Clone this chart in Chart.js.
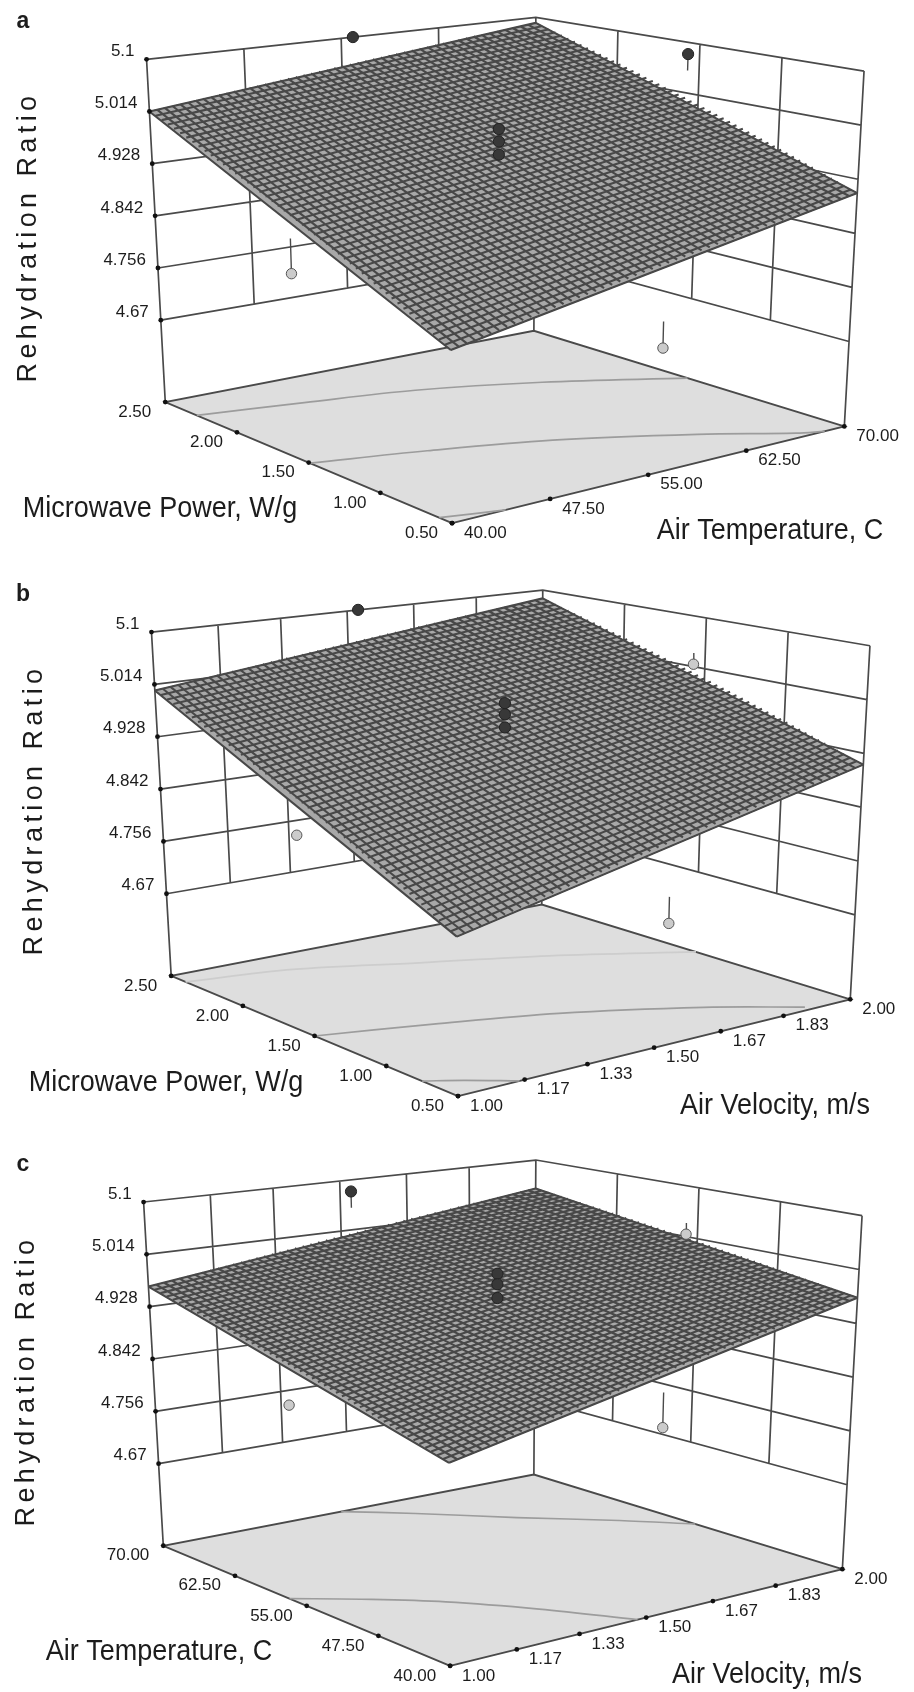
<!DOCTYPE html>
<html>
<head>
<meta charset="utf-8">
<title>Rehydration Ratio response surfaces</title>
<script src="https://cdn.jsdelivr.net/npm/chart.js@4"></script>
<style>
  html, body { margin: 0; padding: 0; background: #fff; }
  #page { position: relative; width: 914px; height: 1692px; overflow: hidden; }
  canvas { position: absolute; left: 0; filter: blur(0.6px); }
</style>
</head>
<body>
<div id="page">
  <canvas id="panelA" width="914" height="560" style="top:0"></canvas>
  <canvas id="panelB" width="914" height="570" style="top:560px"></canvas>
  <canvas id="panelC" width="914" height="562" style="top:1130px"></canvas>
</div>
<script>
// axis ticks
const ratioTicks = [4.67, 4.756, 4.842, 4.928, 5.014, 5.1];
const powerTicks = [0.5, 1, 1.5, 2, 2.5];
const tempTicks = [40, 47.5, 55, 62.5, 70];
const velocityTicks = [1, 1.17, 1.33, 1.5, 1.67, 1.83, 2];
const FLOOR_RATIO = 4.535;

// surface heights read at the four corners: [u low, u high] for v low, then v high
const surfaceA = [[4.78, 4.906], [5.014, 5.09]];
const surfaceB = [[4.761, 4.91], [5.004, 5.085]];
const surfaceC = [[4.823, 4.969], [4.961, 5.049]];

// design points, each [u value, v value, ratio, end of the stem]
const pointsDarkA = [[55.9, 2.5, 5.1, 5.1], [70, 1.57, 5.08, 5.052], [55, 1.5, 5.002, 5.002], [55, 1.5, 4.982, 4.982], [55, 1.5, 4.961, 4.961]];
const pointsLightA = [[40, 1.58, 4.817, 4.871], [55.9, 0.5, 4.721, 4.761]];
const pointsDarkB = [[1.528, 2.5, 5.1, 5.1], [1.5, 1.5, 5.001, 5.001], [1.5, 1.5, 4.983, 4.983], [1.5, 1.5, 4.962, 4.962]];
const pointsLightB = [[2, 1.57, 5.018, 5.037], [1, 1.58, 4.835, 4.835], [1.53, 0.5, 4.718, 4.758]];
const pointsDarkC = [[1.528, 70, 5.08, 5.052], [1.5, 55, 5.0, 5.0], [1.5, 55, 4.983, 4.983], [1.5, 55, 4.961, 4.961]];
const pointsLightC = [[2, 56.05, 5.018, 5.037], [1, 56.2, 4.835, 4.835], [1.53, 40, 4.817, 4.87]];

// floor contours, [u value, v value]
const contoursA = [
  [[40, 2.28], [47.5, 2.18], [55, 2.06], [62.5, 1.84], [70, 1.51]],
  [[40, 1.49], [47.5, 1.34], [55, 1.14], [62.5, 0.82], [67, 0.56], [68.5, 0.5]],
  [[40, 0.59], [44.1, 0.5]]
];
const contoursB = [
  [[1, 2.4], [1.25, 2.3], [1.5, 2.08], [1.75, 1.84], [2, 1.5]],
  [[1, 1.5], [1.25, 1.34], [1.5, 1.14], [1.75, 0.82], [1.9, 0.54]],
  [[1, 0.75], [1.07, 0.65], [1.157, 0.5]]
];
const contoursC = [
  [[1.48, 70], [1.6, 67], [1.75, 62.5], [1.9, 58], [2, 54.3]],
  [[1, 56.8], [1.12, 54.1], [1.25, 50.5], [1.37, 45.7], [1.478, 40]]
];

const MESH_CELLS = 50;
const COLORS = {
  wall: '#4a4a4a',
  floor: '#dedede',
  contour: '#9c9c9c',
  contourFaint: '#cdcdcd',
  mesh: '#484848',
  cell: '#a8a8a8',
  tick: '#111111',
  text: '#1c1c1c',
  dark: '#383838',
  darkEdge: '#222222',
  light: '#cbcbcb',
  lightEdge: '#555555'
};

const panels = [
  {
    id: 'panelA', letter: 'a', letterAt: [23, 22],
    uTicks: tempTicks, vTicks: powerTicks,
    surface: surfaceA, dark: pointsDarkA, light: pointsLightA, contours: contoursA, faintContour: -1,
    uTitle: 'Air Temperature, C', uTitleAt: [770, 531],
    vTitle: 'Microwave Power, W/g', vTitleAt: [160, 509],
    ratioTitleAt: [29, 237],
    // box corners in page pixels: F front, R right, L left, B back; B bottom, T top
    box: { FB: [452, 529], RB: [850, 430], LB: [161, 405], BB: [535, 332], FT: [449, 120], RT: [870, 66], LT: [142, 54], BT: [537, 11] }
  },
  {
    id: 'panelB', letter: 'b', letterAt: [23, 35],
    uTicks: velocityTicks, vTicks: powerTicks,
    surface: surfaceB, dark: pointsDarkB, light: pointsLightB, contours: contoursB, faintContour: 0,
    uTitle: 'Air Velocity, m/s', uTitleAt: [775, 546],
    vTitle: 'Microwave Power, W/g', vTitleAt: [166, 523],
    ratioTitleAt: [35, 250],
    box: { FB: [458, 542], RB: [856, 443], LB: [167, 419], BB: [543, 346], FT: [455, 134], RT: [876, 81], LT: [147, 67], BT: [544, 24] }
  },
  {
    id: 'panelC', letter: 'c', letterAt: [23, 35],
    uTicks: velocityTicks, vTicks: tempTicks,
    surface: surfaceC, dark: pointsDarkC, light: pointsLightC, contours: contoursC, faintContour: -1,
    uTitle: 'Air Velocity, m/s', uTitleAt: [767, 545],
    vTitle: 'Air Temperature, C', vTitleAt: [159, 522],
    ratioTitleAt: [27, 251],
    box: { FB: [450, 542], RB: [848, 443], LB: [159, 419], BB: [535, 346], FT: [448, 134], RT: [868, 81], LT: [139, 67], BT: [537, 24] }
  }
];

function mix(a, b, t) {
  return a + (b - a) * t;
}

// Bilinear on floor and lid, then straight up the vertical
function project(box, u, v, w) {
  const corner = (f, r, l, b, i) => mix(mix(f[i], r[i], u), mix(l[i], b[i], u), v);
  return {
    x: mix(corner(box.FB, box.RB, box.LB, box.BB, 0), corner(box.FT, box.RT, box.LT, box.BT, 0), w),
    y: mix(corner(box.FB, box.RB, box.LB, box.BB, 1), corner(box.FT, box.RT, box.LT, box.BT, 1), w)
  };
}

function unit(ticks, value) {
  return (value - ticks[0]) / (ticks[ticks.length - 1] - ticks[0]);
}

function ratioHeight(ratio) {
  return (ratio - FLOOR_RATIO) / (ratioTicks[ratioTicks.length - 1] - FLOOR_RATIO);
}

const GAP = { x: NaN, y: NaN };

function lineSet(data, color, width, extra) {
  return { type: 'scatter', showLine: true, data, borderColor: color, borderWidth: width, pointRadius: 0, tension: 0, ...extra };
}

function buildDatasets(p) {
  const at = (uVal, vVal, ratio) => project(p.box, unit(p.uTicks, uVal), unit(p.vTicks, vVal), ratioHeight(ratio));
  const uLo = p.uTicks[0], uHi = p.uTicks[p.uTicks.length - 1];
  const vLo = p.vTicks[0], vHi = p.vTicks[p.vTicks.length - 1];
  const rLo = ratioTicks[0], rHi = ratioTicks[ratioTicks.length - 1];
  const sets = [];

  // floor
  const floor = [at(uLo, vLo, FLOOR_RATIO), at(uHi, vLo, FLOOR_RATIO), at(uHi, vHi, FLOOR_RATIO), at(uLo, vHi, FLOOR_RATIO)];
  sets.push(lineSet([floor[0], floor[1], floor[2], floor[3], floor[0]], COLORS.wall, 1.9, { fill: 'shape', backgroundColor: COLORS.floor }));

  p.contours.forEach((c, i) => {
    sets.push(lineSet(c.map(q => at(q[0], q[1], FLOOR_RATIO)), i === p.faintContour ? COLORS.contourFaint : COLORS.contour, 1.7, { tension: 0.35 }));
  });

  // walls: level lines on both walls, verticals at every tick, full height at the three corners
  const walls = [];
  ratioTicks.forEach(r => walls.push(at(uLo, vHi, r), at(uHi, vHi, r), at(uHi, vLo, r), GAP));
  p.uTicks.slice(1, -1).forEach(t => walls.push(at(t, vHi, rLo), at(t, vHi, rHi), GAP));
  p.vTicks.slice(1, -1).forEach(t => walls.push(at(uHi, t, rLo), at(uHi, t, rHi), GAP));
  walls.push(at(uLo, vHi, FLOOR_RATIO), at(uLo, vHi, rHi), GAP);
  walls.push(at(uHi, vHi, FLOOR_RATIO), at(uHi, vHi, rHi), GAP);
  walls.push(at(uHi, vLo, FLOOR_RATIO), at(uHi, vLo, rHi));
  sets.push(lineSet(walls, COLORS.wall, 1.7));

  // surface: a filled sheet with ruled mesh lines, which stay straight on a bilinear patch
  const s = p.surface;
  const corners = [at(uLo, vLo, s[0][0]), at(uHi, vLo, s[0][1]), at(uHi, vHi, s[1][1]), at(uLo, vHi, s[1][0])];
  sets.push(lineSet([corners[0], corners[1], corners[2], corners[3], corners[0]], COLORS.mesh, 1, { fill: 'shape', backgroundColor: COLORS.cell }));
  const mesh = [];
  for (let i = 0; i <= MESH_CELLS; i++) {
    const t = i / MESH_CELLS;
    const uVal = mix(uLo, uHi, t), vVal = mix(vLo, vHi, t);
    mesh.push(at(uVal, vLo, mix(s[0][0], s[0][1], t)), at(uVal, vHi, mix(s[1][0], s[1][1], t)), GAP);
    mesh.push(at(uLo, vVal, mix(s[0][0], s[1][0], t)), at(uHi, vVal, mix(s[0][1], s[1][1], t)), GAP);
  }
  sets.push(lineSet(mesh, COLORS.mesh, 2.1));

  // stems and design points
  const stems = [];
  p.dark.concat(p.light).forEach(q => {
    if (q[2] !== q[3]) stems.push(at(q[0], q[1], q[2]), at(q[0], q[1], q[3]), GAP);
  });
  sets.push(lineSet(stems, COLORS.wall, 1.4));
  sets.push({ type: 'scatter', data: p.dark.map(q => at(q[0], q[1], q[2])), pointRadius: 5.6, pointBackgroundColor: COLORS.dark, pointBorderColor: COLORS.darkEdge, pointBorderWidth: 1 });
  sets.push({ type: 'scatter', data: p.light.map(q => at(q[0], q[1], q[2])), pointRadius: 5.2, pointBackgroundColor: COLORS.light, pointBorderColor: COLORS.lightEdge, pointBorderWidth: 1 });

  // axis tick marks
  const ticks = ratioTicks.map(r => at(uLo, vHi, r))
    .concat(p.uTicks.map(t => at(t, vLo, FLOOR_RATIO)))
    .concat(p.vTicks.map(t => at(uLo, t, FLOOR_RATIO)));
  sets.push({ type: 'scatter', data: ticks, pointRadius: 2.4, pointBackgroundColor: COLORS.tick, pointBorderWidth: 0 });

  sets.forEach((d, i) => { d.order = -i; });
  return sets;
}

// Tick labels and titles as canvas text, placed through the chart scales
const textPlugin = {
  id: 'panelText',
  afterDraw(chart, args, opts) {
    const p = opts.panel;
    const { ctx, scales } = chart;
    const px = q => [scales.x.getPixelForValue(q.x), scales.y.getPixelForValue(q.y)];
    const put = (text, x, y, font, align) => {
      ctx.font = font;
      ctx.textAlign = align;
      ctx.fillText(text, x, y);
    };
    // the axis titles in the figure are tall and a little condensed
    const putTitle = (text, at) => {
      ctx.save();
      ctx.translate(at[0], at[1]);
      ctx.scale(0.9, 1);
      put(text, 0, 0, '30px "Liberation Sans"', 'center');
      ctx.restore();
    };
    const tickFont = '17px "Liberation Sans"';
    ctx.save();
    ctx.fillStyle = COLORS.text;
    ctx.textBaseline = 'middle';

    ratioTicks.forEach(r => {
      const [x, y] = px(project(p.box, 0, 1, ratioHeight(r)));
      put(String(r), x - 12, y - 8, tickFont, 'right');
    });
    p.uTicks.forEach(t => {
      const [x, y] = px(project(p.box, unit(p.uTicks, t), 0, 0));
      put(t.toFixed(2), x + 12, y + 10, tickFont, 'left');
    });
    p.vTicks.forEach(t => {
      const [x, y] = px(project(p.box, 0, unit(p.vTicks, t), 0));
      put(t.toFixed(2), x - 14, y + 10, tickFont, 'right');
    });

    putTitle(p.uTitle, p.uTitleAt);
    putTitle(p.vTitle, p.vTitleAt);
    put(p.letter, p.letterAt[0], p.letterAt[1], 'bold 23px "Liberation Sans"', 'center');

    ctx.save();
    ctx.translate(p.ratioTitleAt[0], p.ratioTitleAt[1]);
    ctx.rotate(-Math.PI / 2);
    ctx.letterSpacing = '4.4px';
    put('Rehydration Ratio', 0, 0, '27px "Liberation Sans"', 'center');
    ctx.restore();
    ctx.restore();
  }
};

panels.forEach(p => {
  const canvas = document.getElementById(p.id);
  new Chart(canvas, {
    type: 'scatter',
    data: { datasets: buildDatasets(p) },
    options: {
      responsive: false,
      animation: false,
      events: [],
      layout: { padding: 0 },
      scales: {
        x: { type: 'linear', display: false, min: 0, max: canvas.width },
        y: { type: 'linear', display: false, min: 0, max: canvas.height, reverse: true }
      },
      plugins: { legend: { display: false }, tooltip: { enabled: false }, panelText: { panel: p } }
    },
    plugins: [textPlugin]
  });
});
</script>
</body>
</html>
